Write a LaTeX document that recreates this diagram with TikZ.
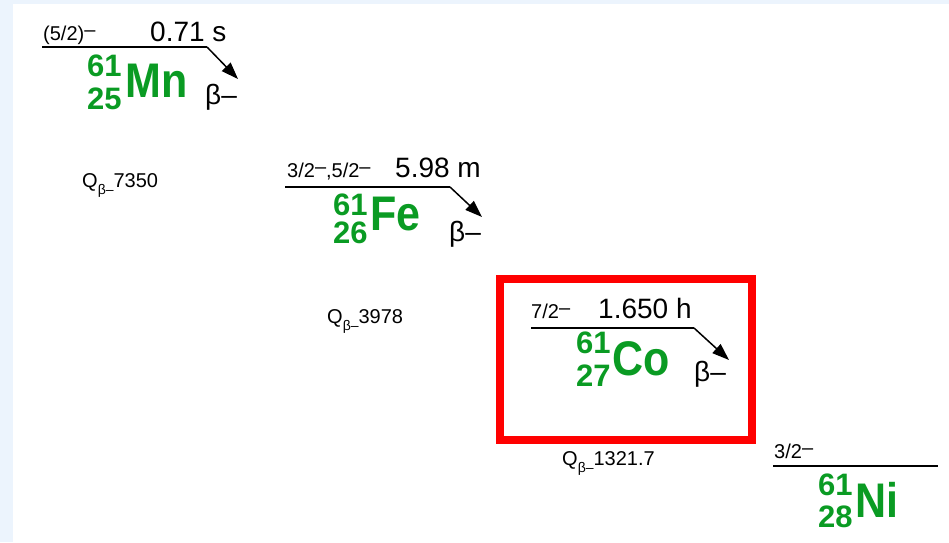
\documentclass[tikz,border=0pt]{standalone}
\usepackage{fontspec}
\usepackage{graphicx}
\setmainfont{Liberation Sans}
\usetikzlibrary{arrows.meta}
\definecolor{nucgreen}{RGB}{10,155,35}
\definecolor{bgblue}{RGB}{236,244,253}
\definecolor{boxred}{RGB}{255,0,0}
\newcommand{\fs}[1]{\fontsize{#1}{#1}\selectfont}
\newcommand{\smin}{\raisebox{0.2em}{–}}
\newcommand{\qbeta}[1]{Q\raisebox{-0.35em}{\fs{14}β–}#1}
\newcommand{\tallsym}[1]{\scalebox{1}[1.13]{#1}}
\begin{document}
\begin{tikzpicture}[x=1pt,y=-1pt,
  txt/.style={inner sep=0pt, anchor=base west},
  spinlab/.style={txt, font=\fs{20}},
  halflife/.style={txt, font=\fs{28}},
  massnum/.style={txt, font=\fs{31}\bfseries, text=nucgreen},
  elem/.style={txt, font=\fs{43}\bfseries, text=nucgreen},
  betalab/.style={txt, font=\fs{28}},
  qlab/.style={txt, font=\fs{20}},
  level/.style={line width=2.5pt},
  decay/.style={line width=1.5pt, -{Triangle[length=17pt,width=12pt]}},
]
\useasboundingbox (0,0) rectangle (949,542);
\fill[bgblue] (0,0) rectangle (949,542);
\fill[white] (13,4) rectangle (949,542);

% Mn-61
\coordinate (mnL) at (42,47);
\coordinate (mnR) at (207,47);
\coordinate (mnT) at (238,79);
\draw[level] (mnL) -- (mnR);
\draw[decay] (mnR) -- (mnT);
\node[spinlab] (mnspin) at (43,40) {(5/2)\smin};
\node[halflife] (mnhl) at (150,41) {0.71 s};
\node[massnum] (mnA) at (87,76) {61};
\node[massnum] (mnZ) at (87,109) {25};
\node[elem] (mnsym) at (125,97) {\tallsym{Mn}};
\node[betalab] (mnbeta) at (205,104) {β–};

\node[qlab] (q1) at (82,187) {\qbeta{7350}};

% Fe-61
\coordinate (feL) at (285,187);
\coordinate (feR) at (450,187);
\coordinate (feT) at (482,217);
\draw[level] (feL) -- (feR);
\draw[decay] (feR) -- (feT);
\node[spinlab] (fespin) at (287,177) {3/2\smin,5/2\smin};
\node[halflife] (fehl) at (395,177) {5.98 m};
\node[massnum] (feA) at (333,215) {61};
\node[massnum] (feZ) at (333,243) {26};
\node[elem] (fesym) at (370,230) {\tallsym{Fe}};
\node[betalab] (febeta) at (449,241) {β–};

\node[qlab] (q2) at (327,323) {\qbeta{3978}};

% Co-61
\node[draw=boxred, line width=8pt, minimum width=252pt, minimum height=161pt,
      inner sep=0pt, anchor=north west] (cobox) at (496,275) {};
\coordinate (coL) at (531,328);
\coordinate (coR) at (694,328);
\coordinate (coT) at (729,360);
\draw[level] (coL) -- (coR);
\draw[decay] (coR) -- (coT);
\node[spinlab] (cospin) at (531,318) {7/2\smin};
\node[halflife] (cohl) at (598,318) {1.650 h};
\node[massnum] (coA) at (576,353) {61};
\node[massnum] (coZ) at (576,386) {27};
\node[elem] (cosym) at (612,375) {\tallsym{Co}};
\node[betalab] (cobeta) at (694,381) {β–};

\node[qlab] (q3) at (562,465) {\qbeta{1321.7}};

% Ni-61
\coordinate (niL) at (773,466);
\coordinate (niR) at (938,466);
\draw[level] (niL) -- (niR);
\node[spinlab] (nispin) at (774,458) {3/2\smin};
\node[massnum] (niA) at (818,495) {61};
\node[massnum] (niZ) at (818,527) {28};
\node[elem] (nisym) at (855,517) {\tallsym{Ni}};
\end{tikzpicture}
\end{document}
